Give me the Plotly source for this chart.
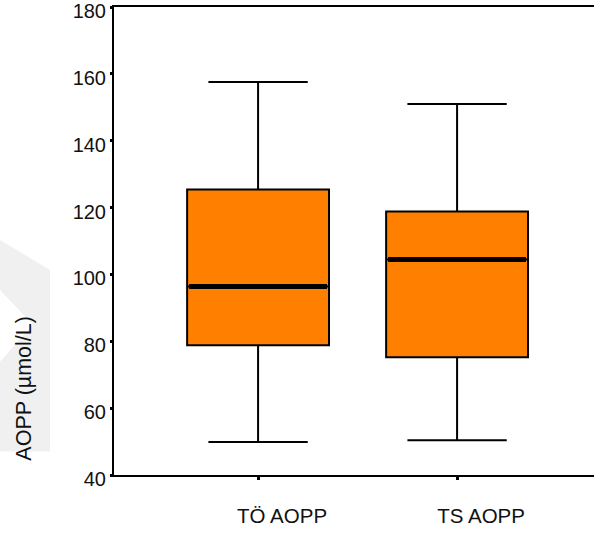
import plotly.graph_objects as go

categories = ["TÖ AOPP", "TS AOPP"]
lower_whisker = [49.9, 50.4]
q1 = [78.8, 75.2]
median = [96.4, 104.5]
q3 = [125.4, 118.8]
upper_whisker = [157.6, 151.0]
y_ticks = [40, 60, 80, 100, 120, 140, 160, 180]

BOX_W = 0.713
FONT = "Arial, Liberation Sans, sans-serif"
TXT = "#111111"

fig = go.Figure()
for i, c in enumerate(categories):
    fig.add_trace(go.Box(
        x=[i], q1=[q1[i]], median=[median[i]], q3=[q3[i]],
        lowerfence=[lower_whisker[i]], upperfence=[upper_whisker[i]],
        width=BOX_W, whiskerwidth=0.7,
        fillcolor="#FF8000", line=dict(color="black", width=2),
        boxpoints=False, name=c, showlegend=False,
    ))
    fig.add_trace(go.Scatter(
        x=[i - BOX_W / 2 + 0.01, i + BOX_W / 2 - 0.01], y=[median[i], median[i]],
        mode="lines", line=dict(color="black", width=5), showlegend=False,
        hoverinfo="skip",
    ))

# plot area in pixels: left 114, top 6.5, width 480, height 469
def px(x):
    return (x - 114) / 480.0

def py(y):
    return (475.5 - y) / 469.0

wm = "#f0f0f0"
path = ("M {a},{b} L {c},{d} L {c},{e} L {a},{e} L {a},{f} L {g},{h} L {a},{i} Z").format(
    a=px(0), b=py(240), c=px(50), d=py(270), e=py(452), f=py(362),
    g=px(33), h=py(325), i=py(290))

fig.update_layout(
    width=594, height=534,
    margin=dict(l=114, r=0, t=6.5, b=58.5, autoexpand=False),
    paper_bgcolor="white", plot_bgcolor="rgba(0,0,0,0)",
    font=dict(family=FONT, color=TXT, size=19),
    shapes=[dict(type="path", path=path, xref="paper", yref="paper",
                 fillcolor=wm, line=dict(width=0), layer="below")],
    annotations=[dict(text="AOPP (µmol/L)", textangle=-90, xref="paper", yref="paper",
                      x=px(24), y=py(389), xanchor="center", yanchor="middle",
                      showarrow=False, font=dict(size=21.5, color=TXT, family=FONT))],
    xaxis=dict(range=[-0.724, 1.688], tickvals=[0, 1], ticktext=categories,
               showline=True, linecolor="black", linewidth=2, mirror=True,
               ticks="outside", ticklen=3, tickwidth=3, tickcolor="black",
               showgrid=False, zeroline=False, ticklabelshift=24,
               ticklabelstandoff=18, tickfont=dict(size=20.5), automargin=False),
    yaxis=dict(range=[40, 180.02], tickvals=y_ticks,
               showline=True, linecolor="black", linewidth=2,
               ticks="outside", ticklen=2, tickwidth=3, tickcolor="black",
               showgrid=False, zeroline=False, ticklabelshift=4,
               ticklabeloverflow="allow", automargin=False,
               ticklabelstandoff=0, tickfont=dict(size=20)),
)

fig.write_html("out.html")
